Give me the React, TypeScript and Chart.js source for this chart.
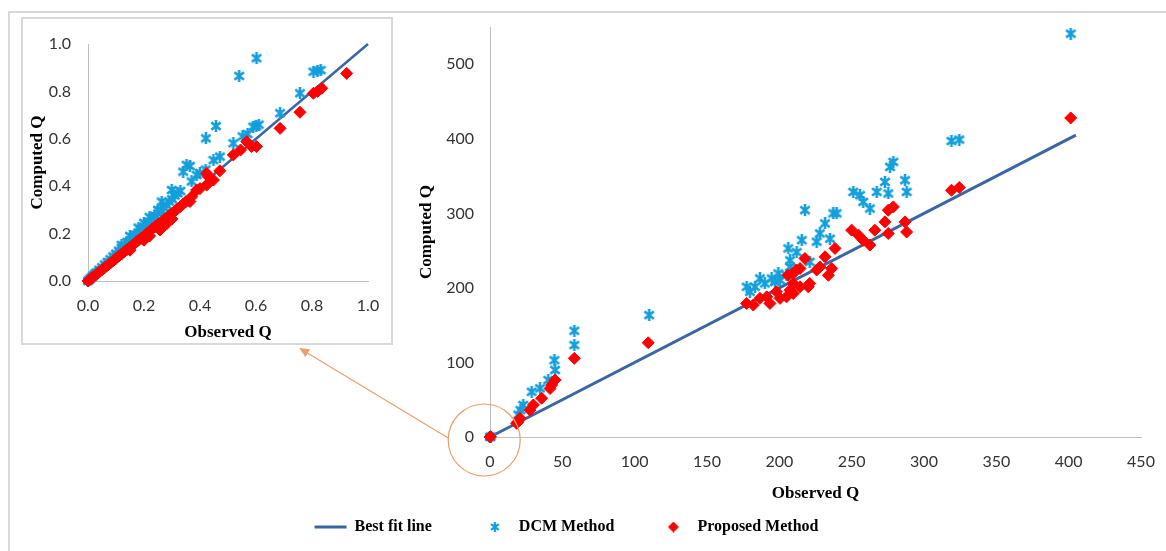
import React, { useEffect, useRef } from "react";
import { Chart, registerables } from "chart.js";

Chart.register(...registerables);

// ---------- data ----------
const MAIN_X_TICKS = [0, 50, 100, 150, 200, 250, 300, 350, 400, 450];
const MAIN_Y_TICKS = [0, 100, 200, 300, 400, 500];
const INSET_TICKS = [0, 0.2, 0.4, 0.6, 0.8, 1.0];

const LEGEND_LABELS = ["Best fit line", "DCM Method", "Proposed Method"];
const X_TITLE = "Observed Q";
const Y_TITLE = "Computed Q";

const BEST_FIT_MAIN = [[0, 0], [405, 405]];
const BEST_FIT_INSET = [[0, 0], [1, 1]];

const DCM_MAIN = [
  [0, 0], [0.5, 0.6], [19.6, 30], [21, 36], [23, 43], [28.8, 60.7], [34.6, 65.3], [40.3, 76.4],
  [45, 89.8], [44.5, 103], [58.3, 123.3], [58.3, 142.5], [110, 163.5],
  [177.4, 201.5], [179.7, 194.8], [183.2, 201.5], [186.6, 212.7], [190, 206], [194.7, 212.7],
  [197, 208], [200.5, 210.5], [199.3, 219.4], [205, 217], [207.4, 228], [207.4, 237], [206.2, 253],
  [212, 248], [215.5, 264], [217.7, 304.3], [221, 235], [225.8, 262], [228, 273], [231.6, 286.5],
  [235, 266], [237.3, 300], [239.6, 300], [251.1, 328.8], [255.8, 324.4], [258, 315.4],
  [262.6, 306.5], [267.3, 328.8], [273, 342.2], [276.5, 362.3], [278.8, 369], [275.3, 326.7],
  [286.9, 344.5], [288, 328.8], [319, 397], [324.4, 399], [401.4, 541],
];

const PROPOSED_MAIN = [
  [0, 0], [0.4, 0.4], [18.4, 18.4], [19.4, 20.5], [20.7, 25], [27.6, 36], [30, 43], [35.7, 52],
  [41.5, 65], [42.6, 69.7], [45, 76.4], [58.3, 105.5], [109.4, 126.4],
  [177.4, 179.2], [182, 177], [186.6, 186], [191.3, 188], [193.5, 179.2], [198, 194.8],
  [200.5, 186], [205, 188], [207.4, 197], [206, 217], [209.6, 206], [209.6, 192.6], [209.6, 219.4],
  [211.7, 224], [214.3, 201.5], [214.3, 226], [217.7, 239.5], [220, 201.5], [221, 206],
  [225.8, 224], [228, 228], [231.6, 241.7], [233.9, 217], [236.2, 226], [238.5, 253],
  [250, 277.5], [254.7, 270.8], [258, 264], [262.6, 257.4], [266, 277.5], [273, 288.6],
  [275.3, 304.3], [278.8, 308.7], [275.3, 273], [286.9, 288.6], [288, 275], [319, 331],
  [324.4, 334.7], [401.4, 428],
];

const DCM_INSET = [
  [0, 0], [0.005, 0.006], [0.01, 0.012], [0.015, 0.018], [0.02, 0.024], [0.025, 0.03],
  [0.03, 0.036], [0.04, 0.047], [0.05, 0.058], [0.06, 0.07], [0.07, 0.08], [0.08, 0.092],
  [0.09, 0.104], [0.1, 0.115], [0.11, 0.128], [0.12, 0.14], [0.12, 0.152], [0.13, 0.15],
  [0.14, 0.165], [0.15, 0.17], [0.15, 0.19], [0.16, 0.185], [0.17, 0.195], [0.18, 0.205],
  [0.18, 0.225], [0.19, 0.215], [0.2, 0.228], [0.2, 0.245], [0.21, 0.24], [0.22, 0.25],
  [0.22, 0.27], [0.23, 0.265], [0.24, 0.275], [0.25, 0.285], [0.25, 0.3], [0.26, 0.3],
  [0.263, 0.335], [0.27, 0.31], [0.28, 0.32], [0.29, 0.335], [0.299, 0.384], [0.3, 0.345],
  [0.31, 0.36], [0.32, 0.37], [0.33, 0.38], [0.34, 0.461], [0.352, 0.49], [0.364, 0.485],
  [0.37, 0.42], [0.388, 0.447], [0.4, 0.455], [0.42, 0.47], [0.421, 0.602], [0.448, 0.51],
  [0.457, 0.654], [0.471, 0.525], [0.519, 0.581], [0.54, 0.865], [0.552, 0.61], [0.57, 0.62],
  [0.59, 0.651], [0.602, 0.94], [0.601, 0.653], [0.61, 0.66], [0.686, 0.708], [0.757, 0.792],
  [0.805, 0.883], [0.82, 0.888], [0.831, 0.89],
];

const PROPOSED_INSET = [
  [0, 0], [0.005, 0.005], [0.01, 0.01], [0.015, 0.014], [0.02, 0.019], [0.03, 0.028],
  [0.04, 0.038], [0.05, 0.047], [0.06, 0.057], [0.07, 0.066], [0.08, 0.076], [0.09, 0.085],
  [0.1, 0.095], [0.11, 0.105], [0.12, 0.114], [0.13, 0.124], [0.14, 0.133], [0.15, 0.142],
  [0.15, 0.13], [0.16, 0.152], [0.17, 0.162], [0.18, 0.172], [0.19, 0.18], [0.2, 0.19],
  [0.2, 0.172], [0.21, 0.2], [0.22, 0.21], [0.22, 0.19], [0.23, 0.22], [0.24, 0.23],
  [0.25, 0.24], [0.257, 0.243], [0.257, 0.215], [0.27, 0.258], [0.28, 0.265], [0.28, 0.24],
  [0.29, 0.277], [0.3, 0.285], [0.3, 0.262], [0.31, 0.295], [0.32, 0.305], [0.329, 0.313],
  [0.34, 0.325], [0.35, 0.335], [0.364, 0.335], [0.37, 0.355], [0.388, 0.384], [0.4, 0.39],
  [0.424, 0.405], [0.424, 0.454], [0.43, 0.44], [0.448, 0.426], [0.471, 0.465], [0.519, 0.532],
  [0.545, 0.553], [0.567, 0.588], [0.584, 0.567], [0.602, 0.567], [0.686, 0.644], [0.757, 0.712],
  [0.805, 0.792], [0.82, 0.8], [0.835, 0.813], [0.924, 0.876],
];

// ---------- styles ----------
const LINE_BLUE = "#3a66a3";
const STAR_BLUE = "#139fdc";
const RED = "#ff0000";
const AXIS_GRAY = "#bfbfbf";
const TICK_FONT = { family: "Lato, 'Liberation Sans', sans-serif", size: 16 };
const TITLE_FONT = { family: "'Liberation Serif', serif", size: 17, weight: "bold" as const };
const LEGEND_FONT = { family: "'Liberation Serif', serif", size: 16, weight: "bold" as const };

const toXY = (arr: number[][]) => arr.map(([x, y]) => ({ x, y }));

function makeStar(size: number, color: string, lw: number) {
  const c = document.createElement("canvas");
  c.width = size;
  c.height = size;
  const g = c.getContext("2d")!;
  g.strokeStyle = color;
  g.lineWidth = lw;
  const m = lw / 2;
  const s = size - lw / 2;
  g.beginPath();
  g.moveTo(size / 2, 0);
  g.lineTo(size / 2, size);
  g.moveTo(m, m + 1);
  g.lineTo(s, s - 1);
  g.moveTo(s, m + 1);
  g.lineTo(m, s - 1);
  g.stroke();
  return c;
}

function makeDiamond(size: number, color: string) {
  const c = document.createElement("canvas");
  c.width = size;
  c.height = size;
  const g = c.getContext("2d")!;
  g.fillStyle = color;
  g.beginPath();
  g.moveTo(size / 2, 0);
  g.lineTo(size, size / 2);
  g.lineTo(size / 2, size);
  g.lineTo(0, size / 2);
  g.closePath();
  g.fill();
  return c;
}

const zoomMarkerPlugin = {
  id: "zoomMarker",
  afterDraw(chart: any) {
    const { ctx, scales } = chart;
    const cx = scales.x.getPixelForValue(-4);
    const cy = scales.y.getPixelForValue(-4);
    const r = 36;
    ctx.save();
    ctx.strokeStyle = "#e8a06a";
    ctx.fillStyle = "#e8a06a";
    ctx.lineWidth = 1.2;
    ctx.beginPath();
    ctx.arc(cx, cy, r, 0, Math.PI * 2);
    ctx.stroke();
    const sx = cx - r;
    const sy = cy - 2;
    const tx = cx - 185;
    const ty = cy - 92;
    const ang = Math.atan2(ty - sy, tx - sx);
    const hl = 10;
    const hw = 4.5;
    const bx = tx - Math.cos(ang) * hl;
    const by = ty - Math.sin(ang) * hl;
    ctx.beginPath();
    ctx.moveTo(sx, sy);
    ctx.lineTo(bx, by);
    ctx.stroke();
    ctx.beginPath();
    ctx.moveTo(tx, ty);
    ctx.lineTo(bx + Math.sin(ang) * hw, by - Math.cos(ang) * hw);
    ctx.lineTo(bx - Math.sin(ang) * hw, by + Math.cos(ang) * hw);
    ctx.closePath();
    ctx.fill();
    ctx.restore();
  },
};

function axis(ticks: number[], extra: any) {
  return {
    type: "linear",
    afterBuildTicks: (s: any) => {
      s.ticks = ticks.map((v) => ({ value: v }));
    },
    grid: { display: false, drawTicks: false },
    border: { display: true, color: AXIS_GRAY, width: 1 },
    ...extra,
  };
}

export default function App() {
  const mainRef = useRef<HTMLCanvasElement>(null);
  const insetRef = useRef<HTMLCanvasElement>(null);

  useEffect(() => {
    const star = makeStar(12, STAR_BLUE, 2.6);
    const smallStar = makeStar(10, STAR_BLUE, 2.2);
    const smallDiamond = makeDiamond(11, RED);

    const mainChart = new Chart(mainRef.current!, {
      type: "scatter",
      data: {
        datasets: [
          {
            label: LEGEND_LABELS[0],
            data: toXY(BEST_FIT_MAIN),
            showLine: true,
            borderColor: LINE_BLUE,
            borderWidth: 3,
            pointRadius: 0,
            order: 3,
            clip: false,
          },
          {
            label: LEGEND_LABELS[1],
            data: toXY(DCM_MAIN),
            pointStyle: star,
            pointRadius: 6,
            borderColor: STAR_BLUE,
            backgroundColor: STAR_BLUE,
            order: 2,
            clip: false,
          },
          {
            label: LEGEND_LABELS[2],
            data: toXY(PROPOSED_MAIN),
            pointStyle: "rectRot",
            pointRadius: 6,
            borderWidth: 1,
            borderColor: RED,
            backgroundColor: RED,
            order: 1,
            clip: false,
          },
        ] as any,
      },
      options: {
        animation: false,
        responsive: false,
        events: [],
        layout: { padding: { left: 0, right: 25, top: 27, bottom: 6 } },
        plugins: {
          tooltip: { enabled: false },
          legend: {
            position: "bottom",
            labels: {
              usePointStyle: true,
              pointStyleWidth: 32,
              boxHeight: 7,
              padding: 7,
              font: LEGEND_FONT,
              color: "#000",
              generateLabels: () => [
                {
                  text: LEGEND_LABELS[0] + "          ",
                  pointStyle: "line",
                  strokeStyle: LINE_BLUE,
                  fillStyle: LINE_BLUE,
                  lineWidth: 3,
                  hidden: false,
                  datasetIndex: 0,
                },
                {
                  text: LEGEND_LABELS[1] + "         ",
                  pointStyle: smallStar,
                  strokeStyle: STAR_BLUE,
                  fillStyle: STAR_BLUE,
                  lineWidth: 0,
                  hidden: false,
                  datasetIndex: 1,
                },
                {
                  text: LEGEND_LABELS[2] + "  ",
                  pointStyle: smallDiamond,
                  strokeStyle: RED,
                  fillStyle: RED,
                  lineWidth: 0,
                  hidden: false,
                  datasetIndex: 2,
                },
              ] as any,
            },
          },
        },
        scales: {
          x: axis(MAIN_X_TICKS, {
            min: 0,
            max: 450,
            ticks: { font: TICK_FONT, color: "#333", padding: 15, maxRotation: 0, callback: (v: any) => String(v) },
            title: { display: true, text: X_TITLE, font: TITLE_FONT, color: "#000", padding: { top: 0, bottom: 8 } },
            afterFit: (s: any) => {
              s.height = 75;
              s.paddingRight = 0;
              s.paddingLeft = 0;
            },
          }),
          y: axis(MAIN_Y_TICKS, {
            min: 0,
            max: 550,
            ticks: { font: TICK_FONT, color: "#333", padding: 16, callback: (v: any) => String(v) },
            title: { display: true, text: Y_TITLE, font: TITLE_FONT, color: "#000", padding: { top: 416, bottom: 0 } },
            afterFit: (s: any) => {
              s.width = 490;
              s.paddingTop = 0;
              s.paddingBottom = 0;
            },
          }),
        } as any,
      },
      plugins: [zoomMarkerPlugin],
    });

    const insetChart = new Chart(insetRef.current!, {
      type: "scatter",
      data: {
        datasets: [
          {
            label: LEGEND_LABELS[0],
            data: toXY(BEST_FIT_INSET),
            showLine: true,
            borderColor: LINE_BLUE,
            borderWidth: 2.5,
            pointRadius: 0,
            order: 3,
            clip: false,
          },
          {
            label: LEGEND_LABELS[1],
            data: toXY(DCM_INSET),
            pointStyle: star,
            pointRadius: 6,
            order: 2,
            clip: false,
          },
          {
            label: LEGEND_LABELS[2],
            data: toXY(PROPOSED_INSET),
            pointStyle: "rectRot",
            pointRadius: 6,
            borderWidth: 1,
            borderColor: RED,
            backgroundColor: RED,
            order: 1,
            clip: false,
          },
        ] as any,
      },
      options: {
        animation: false,
        responsive: false,
        events: [],
        layout: { padding: { left: 0, right: 23, top: 25, bottom: 0 } },
        plugins: { legend: { display: false }, tooltip: { enabled: false } },
        scales: {
          x: axis(INSET_TICKS, {
            min: 0,
            max: 1,
            ticks: { font: TICK_FONT, color: "#333", padding: 15, maxRotation: 0, callback: (v: any) => Number(v).toFixed(1) },
            title: { display: true, text: X_TITLE, font: TITLE_FONT, color: "#000", padding: { top: 0, bottom: 0 } },
            afterFit: (s: any) => {
              s.height = 62;
              s.paddingRight = 0;
              s.paddingLeft = 0;
            },
          }),
          y: axis(INSET_TICKS, {
            min: 0,
            max: 1,
            ticks: { font: TICK_FONT, color: "#333", padding: 17, callback: (v: any) => Number(v).toFixed(1) },
            title: { display: true, text: Y_TITLE, font: TITLE_FONT, color: "#000", padding: { top: 4, bottom: 0 } },
            afterFit: (s: any) => {
              s.width = 65;
              s.paddingTop = 0;
              s.paddingBottom = 0;
            },
          }),
        } as any,
      },
    });

    return () => {
      mainChart.destroy();
      insetChart.destroy();
    };
  }, []);

  return (
    <div style={{ position: "absolute", left: 0, top: 0, width: 1166, height: 551, background: "#fff", overflow: "hidden" }}>
      <div
        style={{
          position: "absolute",
          left: 8,
          top: 11,
          width: 1170,
          height: 560,
          borderTop: "2px solid #d9d9d9",
          borderLeft: "2px solid #d9d9d9",
        }}
      />
      <canvas ref={mainRef} width={1166} height={551} style={{ position: "absolute", left: 0, top: 0 }} />
      <div
        style={{
          position: "absolute",
          left: 21,
          top: 17,
          width: 368,
          height: 324,
          border: "2px solid #d9d9d9",
          background: "#fff",
        }}
      >
        <canvas ref={insetRef} width={368} height={324} style={{ display: "block" }} />
      </div>
    </div>
  );
}
